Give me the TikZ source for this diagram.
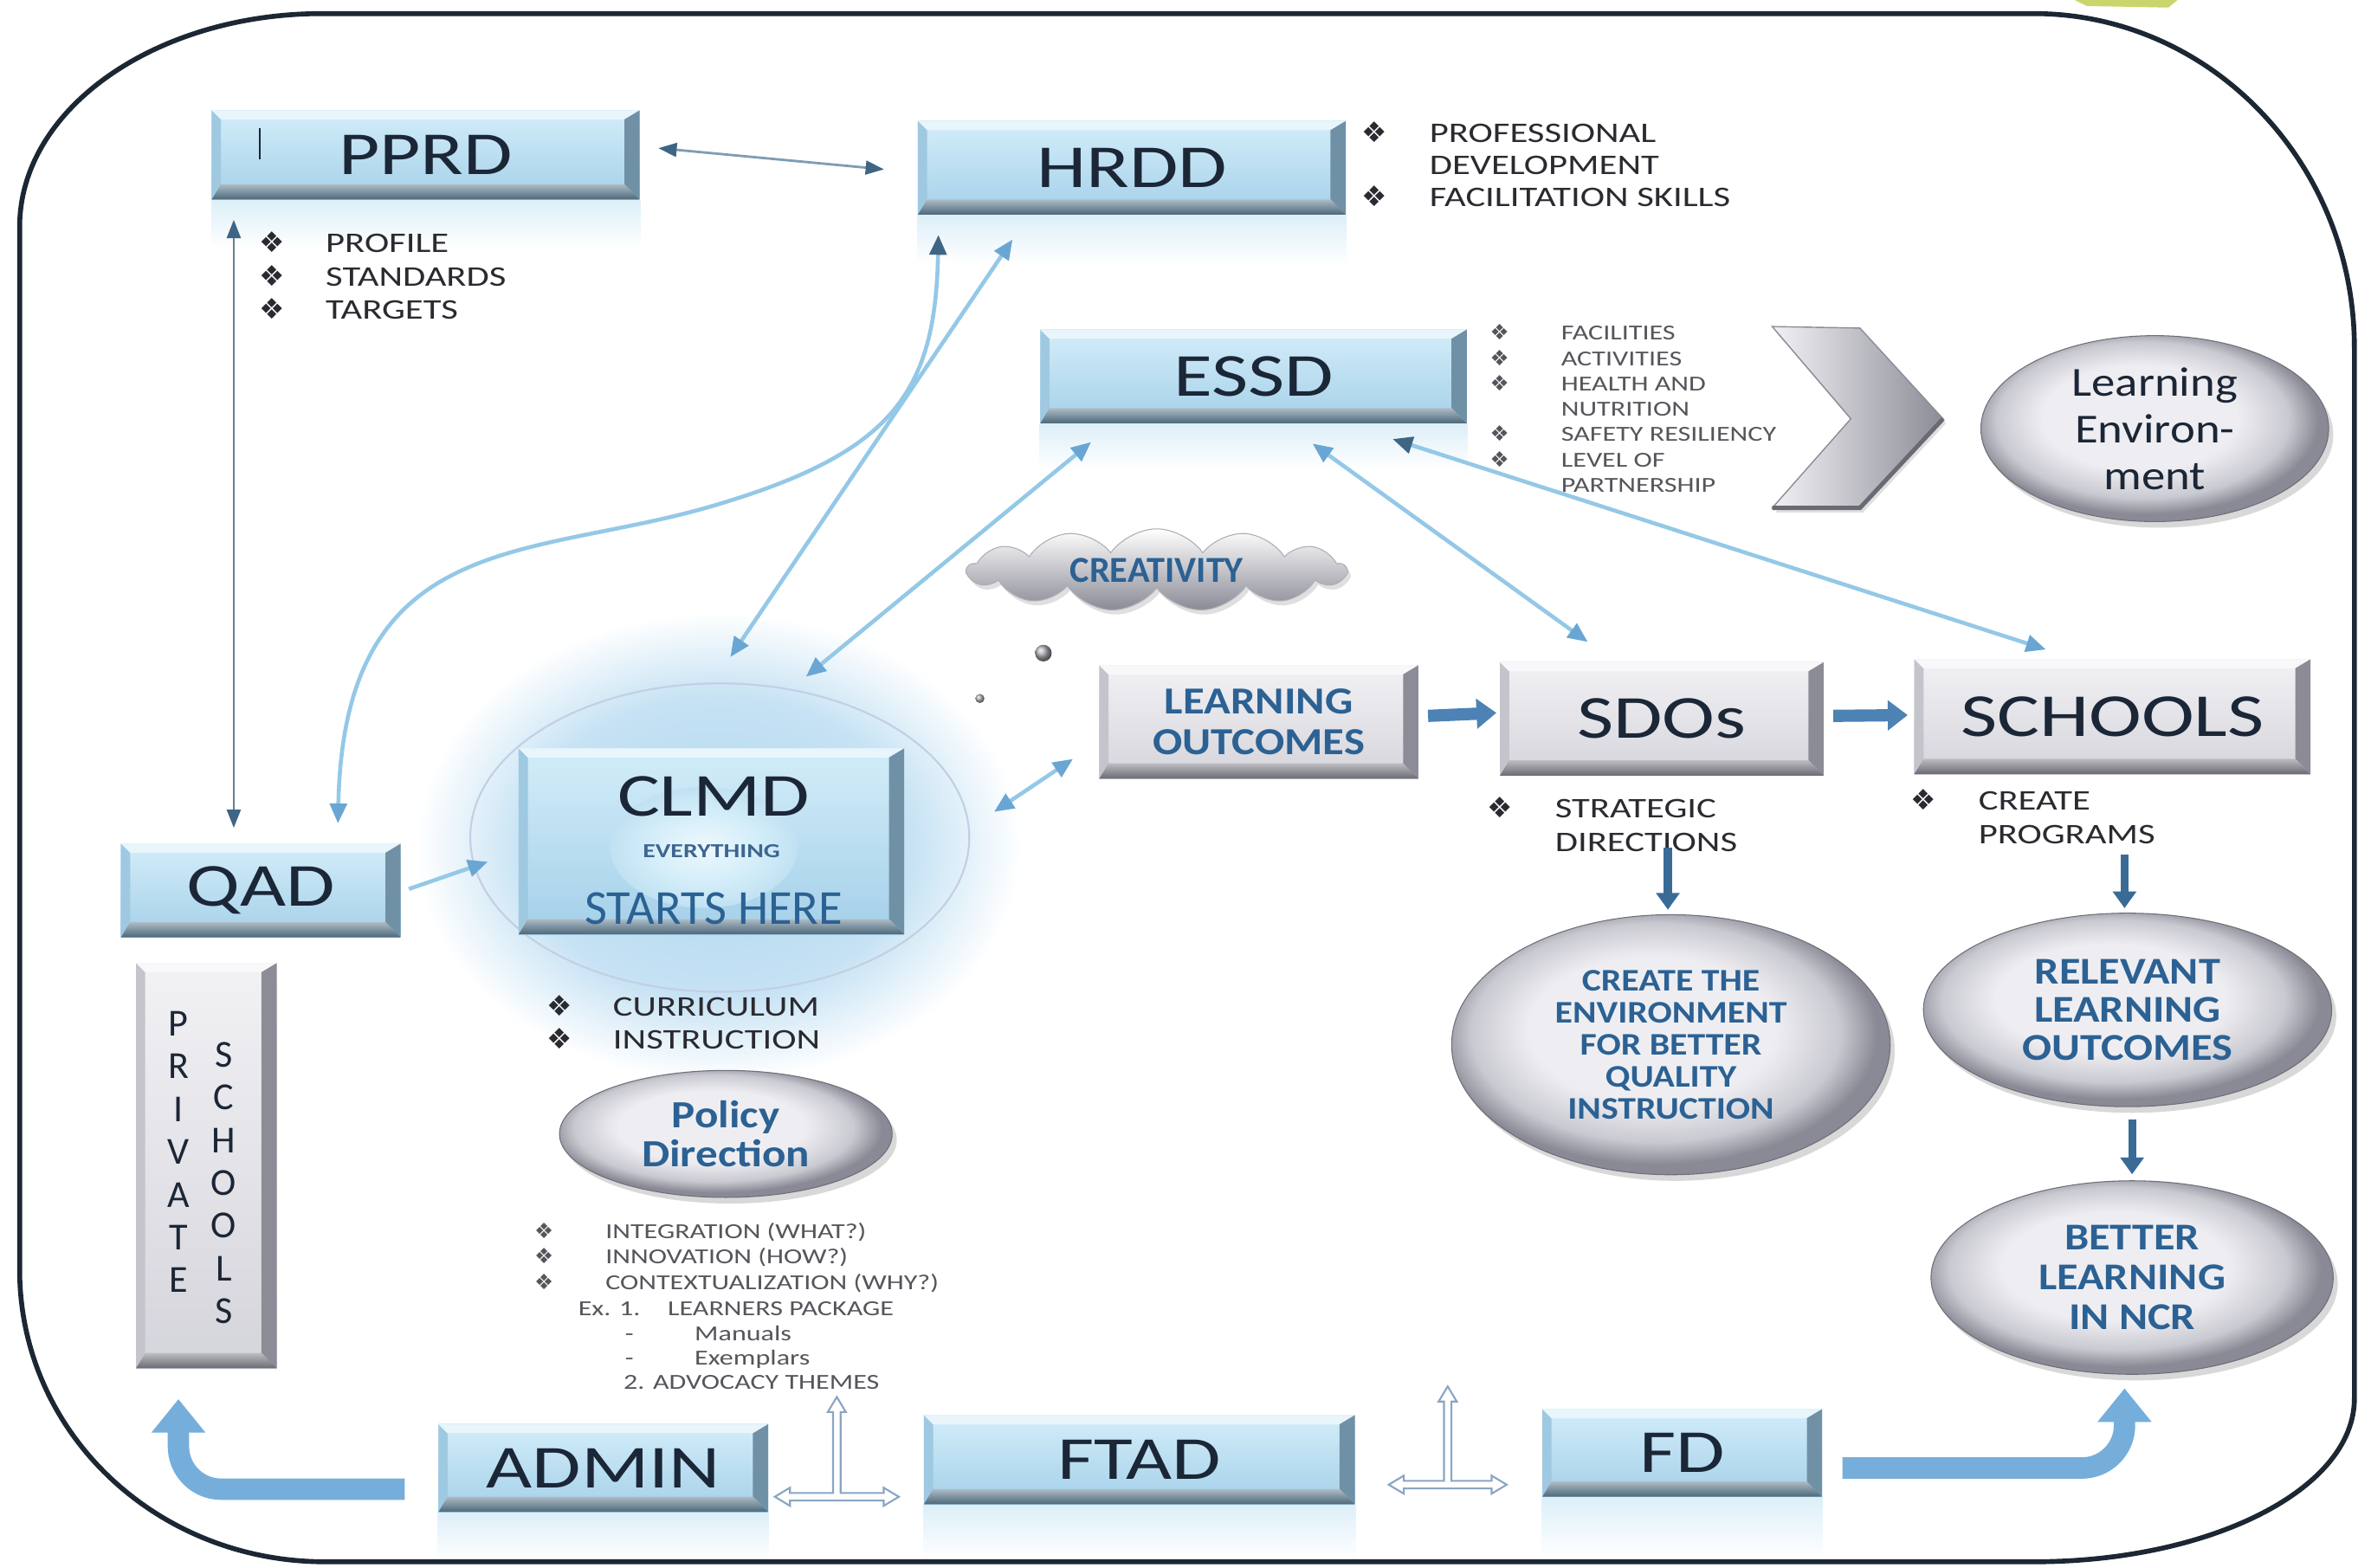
\documentclass[tikz,border=0pt]{standalone}
\usepackage{fontspec}
\setmainfont{Carlito}
\newfontfamily\wide{Carlito}[FakeStretch=1.3]
\newfontfamily\midwide{Carlito}[FakeStretch=1.15]
\newfontfamily\dv{DejaVu Sans}
\usetikzlibrary{arrows.meta,calc,shapes.geometric,shapes.symbols,shadows,backgrounds}

\definecolor{framec}{HTML}{1C2733}
\definecolor{txtdark}{HTML}{1B2636}
\definecolor{txtblue}{HTML}{2C6193}
\definecolor{bface1}{HTML}{D3EDF9}
\definecolor{bface2}{HTML}{A4D0E9}
\definecolor{bbot}{HTML}{4B687B}
\definecolor{bright}{HTML}{7090A6}
\definecolor{btop}{HTML}{E8F5FB}
\definecolor{bleft}{HTML}{9FC9E1}
\definecolor{gface1}{HTML}{F2F2F5}
\definecolor{gface2}{HTML}{D4D4DB}
\definecolor{gbot}{HTML}{6A6A74}
\definecolor{gright}{HTML}{8C8C97}
\definecolor{gtop}{HTML}{F8F8FA}
\definecolor{gleft}{HTML}{C4C4CC}
\definecolor{sv1}{HTML}{EEEEF2}
\definecolor{sv2}{HTML}{C9C9D1}
\definecolor{sv3}{HTML}{8A8A96}
\definecolor{linkc}{HTML}{94C8E7}
\definecolor{tipc}{HTML}{6AA6D3}
\definecolor{tipdark}{HTML}{3F6584}
\definecolor{steel}{HTML}{7F9DB4}
\definecolor{flowc}{HTML}{4C82B4}
\definecolor{downc}{HTML}{3A6B97}
\definecolor{bendc}{HTML}{76AEDB}
\definecolor{glow}{HTML}{AED6EF}
\definecolor{glowline}{HTML}{C3CFE3}
\definecolor{listc}{HTML}{2A2A30}
\definecolor{smallc}{HTML}{55555C}
\definecolor{refl}{HTML}{DDEFF8}
\definecolor{tarrowc}{HTML}{8AA5C3}
\definecolor{scrap}{HTML}{C9D66B}

\pgfdeclareradialshading{silverball}{\pgfpoint{-3bp}{4bp}}{color(0bp)=(sv1); color(14bp)=(sv1); color(21bp)=(sv2); color(25bp)=(sv3); color(50bp)=(sv3)}
\pgfdeclareradialshading{clmdglow}{\pgfpoint{0bp}{0bp}}{color(0bp)=(glow); color(16bp)=(glow!70!white); color(25bp)=(white); color(50bp)=(white)}
\pgfdeclareradialshading{clmdspot}{\pgfpoint{0bp}{0bp}}{color(0bp)=(white!60!bface1); color(15bp)=(bface1); color(25bp)=(bface1!60!bface2); color(50bp)=(bface1!60!bface2)}

\newcommand\pxu{0.4951pt}
\newcommand\bl[1]{\makebox[#1][l]{\dv ❖}}

\begin{document}
\begin{tikzpicture}[x=0.4951pt,y=-0.4951pt,
  bevel/.style n args={4}{path picture={
    \path (path picture bounding box.south west) coordinate (bv1)
          (path picture bounding box.south east) coordinate (bv2)
          (path picture bounding box.north east) coordinate (bv3)
          (path picture bounding box.north west) coordinate (bv4);
    \fill[#4] (bv1) -- (bv4) -- ([shift={(3pt,-3pt)}]bv4) -- ([shift={(3pt,5pt)}]bv1) -- cycle;
    \fill[#3] (bv4) -- (bv3) -- ([shift={(-5pt,-3pt)}]bv3) -- ([shift={(3pt,-3pt)}]bv4) -- cycle;
    \fill[#2] (bv3) -- (bv2) -- ([shift={(-5pt,5pt)}]bv2) -- ([shift={(-5pt,-3pt)}]bv3) -- cycle;
    \shade[top color=#1!45!white, bottom color=#1] (bv1) -- (bv2) -- ([shift={(-5pt,5pt)}]bv2) -- ([shift={(3pt,5pt)}]bv1) -- cycle;
  }},
  boxbase/.style={rectangle, inner sep=0pt, align=center, text=txtdark,
    font=\wide\fontsize{20}{24}\selectfont},
  bluebox/.style={boxbase, top color=bface1, bottom color=bface2, bevel={bbot}{bright}{btop}{bleft}},
  graybox/.style={boxbase, top color=gface1, bottom color=gface2, bevel={gbot}{gright}{gtop}{gleft}},
  silver/.style={ellipse, inner sep=0pt, align=center, shade, shading=silverball,
    draw=sv3!80!black, line width=0.3pt,
    drop shadow={opacity=0.3, shadow xshift=1.5pt, shadow yshift=-2pt}},
  listtxt/.style={anchor=base west, inner sep=0pt, text=listc,
    font=\wide\fontsize{9.3}{10.9}\selectfont},
  smalltxt/.style={anchor=base west, inner sep=0pt, text=smallc,
    font=\wide\fontsize{7}{8.3}\selectfont},
  frame/.style={draw=framec, line width=1.6pt},
  link/.style={draw=linkc, line width=1.3pt,
    arrows={Triangle[width=5.5pt,length=6.5pt,color=tipc]-Triangle[width=5.5pt,length=6.5pt,color=tipc]}},
  darklink/.style={draw=linkc, line width=1.3pt,
    arrows={Triangle[width=5.5pt,length=6.5pt,color=tipdark]-Triangle[width=5.5pt,length=6.5pt,color=tipc]}},
  steellink/.style={draw=steel, line width=0.8pt,
    arrows={Triangle[width=4.5pt,length=6pt,color=tipdark]-Triangle[width=4.5pt,length=6pt,color=tipdark]}},
  flow/.style={draw=flowc, line width=4pt, -{Triangle[width=9.5pt,length=6.5pt]}},
  down/.style={draw=downc, line width=2.6pt, -{Triangle[width=7.5pt,length=5.5pt]}},
  bendarrow/.style={draw=bendc, line width=7pt, rounded corners=14pt, -{Triangle[width=17pt,length=11pt]}},
  tarrow/.style={draw=tarrowc, fill=white, line width=0.6pt, line join=miter},
]
\useasboundingbox (0,0) rectangle (1568,1037);
\begin{scope}[on background layer]
  \fill[white] (0,0) rectangle (1568,1037);
\end{scope}

% scrap of a shape cut off at the upper edge
\fill[scrap] (1372,0) -- (1440,0) -- (1434,5) -- (1380,4) -- cycle;

% halo around CLMD
\shade[shading=clmdglow] (475,560) ellipse [x radius=200, y radius=155];
\draw[glowline, line width=0.6pt] (476,554) ellipse [x radius=165, y radius=102];

% outer rounded frame
\draw[frame] (13,840) -- (13,150) .. controls (13,72) and (103,9) .. (213,9) -- (1345,9)
  .. controls (1462,9) and (1557,108) .. (1557,230) -- (1557,925)
  .. controls (1557,985) and (1462,1033) .. (1345,1033) -- (215,1033)
  .. controls (103,1033) and (13,947) .. (13,840) -- cycle;

% offices
\node[bluebox, minimum width=283*\pxu, minimum height=59*\pxu] (pprd) at (281.5,102.5) {PPRD};
\node[bluebox, minimum width=283*\pxu, minimum height=62*\pxu] (hrdd) at (748.5,111) {HRDD};
\node[bluebox, minimum width=282*\pxu, minimum height=62*\pxu] (essd) at (829,249) {ESSD};
\node[bluebox, minimum width=185*\pxu, minimum height=62*\pxu] (qad) at (172.5,589) {QAD};
\node[bluebox, minimum width=255*\pxu, minimum height=123*\pxu] (clmd) at (470.5,556.5) {};
\node[bluebox, minimum width=218*\pxu, minimum height=58*\pxu] (admin) at (399,971) {ADMIN};
\node[bluebox, minimum width=285*\pxu, minimum height=59*\pxu] (ftad) at (753.5,965.5) {FTAD};
\node[bluebox, minimum width=185*\pxu, minimum height=58*\pxu] (fd) at (1112.5,961) {FD};

\draw[txtdark, line width=0.6pt] ($(pprd.west)+(32,-18)$) -- ($(pprd.west)+(32,3)$);

% CLMD face
\shade[shading=clmdspot] ($(clmd.center)+(-5,4)$) ellipse [x radius=62, y radius=40];
\node[text=txtdark, font=\wide\fontsize{20}{24}\selectfont, inner sep=0pt] (clmdt) at ($(clmd.center)+(1.5,-29.5)$) {CLMD};
\node[text=txtblue!80!gray, font=\wide\bfseries\fontsize{6.5}{7}\selectfont, inner sep=0pt] (clmde) at ($(clmd.center)+(0,6.5)$) {EVERYTHING};
\node[text=txtblue, font=\fontsize{16}{18}\selectfont, inner sep=0pt] (clmds) at ($(clmd.center)+(1.5,44.5)$) {STARTS HERE};

% flow boxes
\node[graybox, minimum width=211*\pxu, minimum height=75*\pxu, text=txtblue,
  font=\midwide\bfseries\fontsize{12.5}{13.4}\selectfont] (lo) at (832.5,477.5) {LEARNING\\OUTCOMES};
\node[graybox, minimum width=214*\pxu, minimum height=75*\pxu] (sdos) at (1099,475.5) {SDOs};
\node[graybox, minimum width=262*\pxu, minimum height=76*\pxu] (schools) at (1397,474) {SCHOOLS};
\node[graybox, minimum width=93*\pxu, minimum height=268*\pxu] (priv) at (136.5,771) {};
\node[text=txtdark, align=center, inner sep=0pt, font=\fontsize{12.5}{14}\selectfont] (privl) at ($(priv.center)+(-18.5,-9)$) {P\\R\\I\\V\\A\\T\\E};
\node[text=txtdark, align=center, inner sep=0pt, font=\fontsize{12.5}{14}\selectfont] (privr) at ($(priv.center)+(11.5,11.5)$) {S\\C\\H\\O\\O\\L\\S};

% outcome ellipses
\node[silver, minimum width=230*\pxu, minimum height=123*\pxu, text=txtdark,
  font=\midwide\fontsize{13.5}{15.3}\selectfont] (lenv) at (1425,283.5) {Learning\\Environ-\\ment};
\node[silver, minimum width=290*\pxu, minimum height=172*\pxu, text=txtblue,
  font=\midwide\bfseries\fontsize{10.3}{10.5}\selectfont] (create) at (1105,691) {CREATE THE\\ENVIRONMENT\\FOR BETTER\\QUALITY\\INSTRUCTION};
\node[silver, minimum width=270*\pxu, minimum height=128*\pxu,
  text=txtblue, font=\midwide\bfseries\fontsize{12.4}{12.6}\selectfont] (relevant) at (1407,668) {RELEVANT\\LEARNING\\OUTCOMES};
\node[silver, minimum width=266*\pxu, minimum height=128*\pxu,
  text=txtblue, font=\midwide\bfseries\fontsize{12.4}{13}\selectfont] (better) at (1410,845) {BETTER\\LEARNING\\IN NCR};
\node[silver, minimum width=220*\pxu, minimum height=84*\pxu,
  text=txtblue, font=\midwide\bfseries\fontsize{12.6}{12.6}\selectfont] (policy) at (480,750) {Policy\\Direction};

% chevron
\shade[left color=gface1, right color=gright, draw=gright, line width=0.4pt,
  drop shadow={opacity=0.25, shadow xshift=1pt, shadow yshift=-1.5pt}]
  (1172,216) -- (1230,217) -- (1285,277) -- (1230,336) -- (1172,336) -- (1224,277) -- cycle;
\draw[gbot, line width=1.4pt] (1285,277) -- (1230,336) -- (1172,336);

% cloud and bubbles
\node[cloud, cloud puffs=13, cloud puff arc=110, aspect=4.6,
  minimum width=250*\pxu, minimum height=52*\pxu, inner sep=0pt,
  top color=white, bottom color=sv3, draw=sv3!70, line width=0.3pt,
  drop shadow={opacity=0.25, shadow xshift=1pt, shadow yshift=-1.5pt},
  text=txtblue, font=\bfseries\fontsize{12}{14}\selectfont] (creat) at (765,377) {CREATIVITY};
\shade[ball color=sv3!70] (690,432) circle (5.5);
\shade[ball color=sv3!70] (648,462) circle (3);

% bullet lists
\node[listtxt] (pprdl) at (171,167) {\begin{tabular}[t]{@{}l@{}l@{}}\bl{21.8pt}&PROFILE\\ \bl{21.8pt}&STANDARDS\\ \bl{21.8pt}&TARGETS\end{tabular}};
\node[listtxt, font=\wide\fontsize{9.3}{10.6}\selectfont] (hrddl) at (900,94) {\begin{tabular}[t]{@{}l@{}l@{}}\bl{22.3pt}&PROFESSIONAL\\ &DEVELOPMENT\\ \bl{22.3pt}&FACILITATION SKILLS\end{tabular}};
\node[smalltxt] (essdl) at (985,225) {\begin{tabular}[t]{@{}l@{}l@{}}\bl{23.3pt}&FACILITIES\\ \bl{23.3pt}&ACTIVITIES\\ \bl{23.3pt}&HEALTH AND\\ &NUTRITION\\ \bl{23.3pt}&SAFETY RESILIENCY\\ \bl{23.3pt}&LEVEL OF\\ &PARTNERSHIP\end{tabular}};
\node[listtxt] (sdosl) at (983,541) {\begin{tabular}[t]{@{}l@{}l@{}}\bl{22.3pt}&STRATEGIC\\ &DIRECTIONS\end{tabular}};
\node[listtxt] (schl) at (1263,536) {\begin{tabular}[t]{@{}l@{}l@{}}\bl{22.3pt}&CREATE\\ &PROGRAMS\end{tabular}};
\node[listtxt] (clmdl) at (361,672) {\begin{tabular}[t]{@{}l@{}l@{}}\bl{21.8pt}&CURRICULUM\\ \bl{21.8pt}&INSTRUCTION\end{tabular}};

\node[smalltxt] (pol1) at (353,819) {\bl{23.3pt}INTEGRATION (WHAT?)};
\node[smalltxt] (pol2) at (353,836) {\bl{23.3pt}INNOVATION (HOW?)};
\node[smalltxt] (pol3) at (353,853) {\bl{23.3pt}CONTEXTUALIZATION (WHY?)};
\node[smalltxt] (pol4) at (382,870) {Ex. 1.\hspace{9pt}LEARNERS PACKAGE};
\node[smalltxt] (pol5) at (413,887) {-\hspace{20pt}Manuals};
\node[smalltxt] (pol6) at (413,903) {-\hspace{20pt}Exemplars};
\node[smalltxt] (pol7) at (412,919) {2. ADVOCACY THEMES};

% faint reflections under the office boxes
\begin{scope}[on background layer]
  \foreach \b/\h in {pprd/32, hrdd/32, essd/30, admin/32, ftad/36, fd/40}{
    \shade[top color=refl, bottom color=white] (\b.south west) rectangle ($(\b.south east)+(0,\h)$);
  }
\end{scope}

% connectors
\draw[steellink] ($(pprd.east)+(12,-4.5)$) -- ($(hrdd.west)+(-22,1)$);
\draw[steellink, draw=steel!80!black] ($(pprd.south west)+(15,13)$) -- ($(qad.north west)+(75,-10)$);
\coordinate (bend) at (470,335);
\draw[darklink] ($(hrdd.south west)+(14,13)$) .. controls +(-2,105) and +(120,-35) .. (bend)
  .. controls +(-120,35) and +(4,-195) .. ($(qad.north)+(51,-13)$);
\draw[link] ($(hrdd.south west)+(63,16)$) -- ($(clmd.north)+(12.5,-60)$);
\draw[link] ($(essd.south west)+(34,12)$) -- ($(clmd.north)+(62.5,-47)$);
\draw[link] ($(essd.south)+(39,13)$) -- ($(sdos.north)+(-49,-13)$);
\draw[darklink] ($(essd.south)+(92,10)$) -- ($(schools.north)+(-44,-6)$);
\draw[link] ($(clmd.east)+(59,-19.5)$) -- ($(lo.west)+(-17,24.5)$);
\draw[draw=linkc, line width=1.3pt, -{Triangle[width=5.5pt,length=6.5pt,color=tipc]}]
  ($(qad.east)+(5,-1)$) -- ($(clmd.west)+(-20,13.5)$);

\draw[flow] ($(lo.east)+(6,-4)$) -- ($(sdos.west)+(-2,-4)$);
\draw[flow] ($(sdos.east)+(6,-2)$) -- ($(schools.west)+(-4,-1)$);
\draw[down] ($(sdos.south)+(4,47)$) -- ($(create.north)+(-2,-3)$);
\draw[down] ($(schools.south)+(8,53)$) -- ($(relevant.north)+(-2,-3)$);
\draw[down] ($(relevant.south)+(3,8)$) -- ($(better.north)+(0,-4)$);

\draw[bendarrow] ($(admin.west)+(-22,14)$) -| ($(priv.south)+(-18.5,20)$);
\draw[bendarrow] ($(fd.east)+(13,10)$) -| ($(better.south)+(-5,9)$);

% crossed double arrows between the lower offices
\draw[tarrow] ($(admin.east)+(4,19)$) -- ++(10,-6) -- ++(0,3.5) -- ++(28.5,0) -- ++(0,-53.5)
  -- ++(-3.5,0) -- ++(6,-10) -- ++(6,10) -- ++(-3.5,0) -- ++(0,53.5) -- ++(28.5,0)
  -- ++(0,-3.5) -- ++(10,6) -- ++(-10,6) -- ++(0,-3.5) -- ++(-62,0) -- ++(0,3.5) -- cycle;
\draw[tarrow] ($(ftad.east)+(22,16.5)$) -- ++(10,-6) -- ++(0,3.5) -- ++(26.5,0) -- ++(0,-52.5)
  -- ++(-3.5,0) -- ++(6,-10) -- ++(6,10) -- ++(-3.5,0) -- ++(0,52.5) -- ++(26.5,0)
  -- ++(0,-3.5) -- ++(10,6) -- ++(-10,6) -- ++(0,-3.5) -- ++(-58,0) -- ++(0,3.5) -- cycle;
\end{tikzpicture}
\end{document}
